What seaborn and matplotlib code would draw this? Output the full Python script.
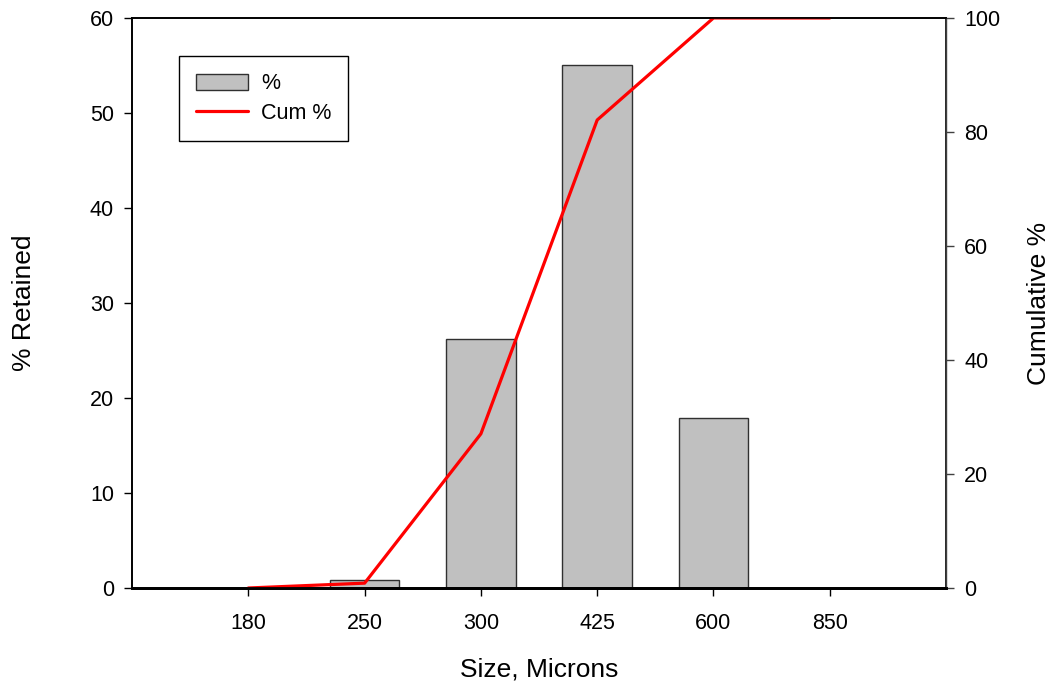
import matplotlib
matplotlib.use("Agg")
import matplotlib.pyplot as plt
import seaborn as sns
from matplotlib.lines import Line2D
from matplotlib.patches import Patch

# ----------------------------------------------------------
# Data
# ----------------------------------------------------------
sizes = ["180", "250", "300", "425", "600", "850"]
pct_retained = [0.0, 0.85, 26.2, 55.05, 17.9, 0.0]
cum_pct = [0.0, 0.85, 27.05, 82.1, 100.0, 100.0]

left_ticks = [0, 10, 20, 30, 40, 50, 60]
right_ticks = [0, 20, 40, 60, 80, 100]

# ----------------------------------------------------------
# Style
# ----------------------------------------------------------
sns.set_style("white")
plt.rcParams["font.family"] = ["Liberation Sans", "DejaVu Sans"]
plt.rcParams["text.color"] = "black"
plt.rcParams["axes.labelcolor"] = "black"
plt.rcParams["xtick.color"] = "black"
plt.rcParams["ytick.color"] = "black"

fig = plt.figure(figsize=(10.52, 6.83), dpi=100)
ax = fig.add_axes([0.1255, 0.1391, 0.7738, 0.8346])

sns.barplot(x=sizes, y=pct_retained, order=sizes, ax=ax,
            color="#c0c0c0", saturation=1, width=0.6,
            edgecolor="#303030", linewidth=1.0)

ax2 = ax.twinx()
sns.pointplot(x=sizes, y=cum_pct, order=sizes, ax=ax2,
              color="red", markers="", linewidth=2.3)

ax.set_xlim(-1, 6)
ax2.set_xlim(-1, 6)
ax.set_ylim(0, 60)
ax2.set_ylim(0, 100)
ax.set_yticks(left_ticks)
ax2.set_yticks(right_ticks)

tick_fs = 15.5
label_fs = 19

ax.tick_params(axis="y", direction="out", length=6, width=1,
               labelsize=tick_fs, colors="black", pad=7, left=True)
ax.tick_params(axis="x", direction="out", length=6, width=1,
               labelsize=tick_fs, colors="black", pad=12, bottom=True)
ax2.tick_params(axis="y", direction="out", length=6, width=1,
                labelsize=tick_fs, color="#404040", labelcolor="black",
                pad=7, right=True)

ax.set_xlabel("Size, Microns", fontsize=label_fs, labelpad=17)
ax.set_ylabel("% Retained", fontsize=label_fs, labelpad=39)
ax2.set_ylabel("Cumulative %", fontsize=label_fs, labelpad=19)

for a in (ax, ax2):
    for side in ("left", "top", "right", "bottom"):
        a.spines[side].set_visible(True)
        a.spines[side].set_color("black")
        a.spines[side].set_linewidth(1.2)
ax.spines["bottom"].set_linewidth(2.0)
ax2.spines["bottom"].set_linewidth(2.0)
ax2.spines["right"].set_color("#404040")
ax2.spines["right"].set_linewidth(1.0)

handles = [
    Patch(facecolor="#c0c0c0", edgecolor="#303030", linewidth=1.0),
    Line2D([0], [0], color="red", linewidth=2.3),
]
leg = ax2.legend(handles, ["%", "Cum %"], loc="upper left",
                 bbox_to_anchor=(0.0577, 0.933), borderaxespad=0,
                 fontsize=tick_fs, frameon=True, fancybox=False,
                 edgecolor="black", framealpha=1, handlelength=2.4,
                 handleheight=0.8, handletextpad=0.6, borderpad=0.8,
                 labelspacing=0.4)
leg.get_frame().set_linewidth(1.0)

fig.savefig("out.png", dpi=100)
